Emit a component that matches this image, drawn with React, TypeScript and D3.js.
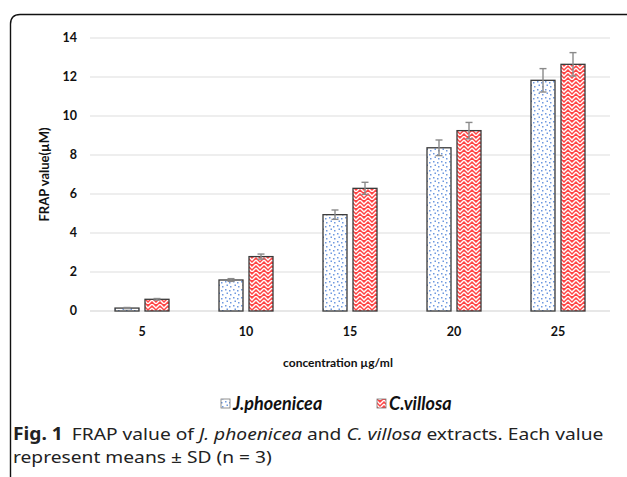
import React from "react";
import * as d3 from "d3";

const categories = ["5", "10", "15", "20", "25"];
const seriesNames = ["J.phoenicea", "C.villosa"];
const jphoeniceaValues = [0.15, 1.59, 4.94, 8.37, 11.83];
const jphoeniceaSD = [0.03, 0.07, 0.24, 0.4, 0.6];
const cvillosaValues = [0.6, 2.79, 6.29, 9.25, 12.65];
const cvillosaSD = [0.04, 0.13, 0.31, 0.42, 0.6];
const yTicks = [0, 2, 4, 6, 8, 10, 12, 14];

const W = 627;
const H = 477;
const left = 90;
const right = 610;
const top = 38;
const bottom = 311;

export default function App() {
  const x0 = d3.scaleBand<string>().domain(categories).range([left, right]).paddingInner(0).paddingOuter(0);
  const x1 = d3.scaleBand<string>().domain(seriesNames).range([-27, 27]).paddingInner(0.2);
  const y = d3.scaleLinear().domain([0, 14]).range([bottom, top]);

  const series = [
    { name: seriesNames[0], values: jphoeniceaValues, sd: jphoeniceaSD, fill: "url(#dots)" },
    { name: seriesNames[1], values: cvillosaValues, sd: cvillosaSD, fill: "url(#weave)" },
  ];

  const chartFont = "Lato, 'Open Sans', sans-serif";
  const capFont = "'Noto Sans', 'Open Sans', sans-serif";
  const legendX = [221, 377];

  return (
    <svg width={W} height={H} style={{ position: "absolute", left: 0, top: 0, background: "#fff" }}>
      <defs>
        <pattern id="dots" width="8" height="8" patternUnits="userSpaceOnUse">
          <rect width="8" height="8" fill="#fff" />
          <rect x="1" y="1" width="1.5" height="1.5" fill="#6f9ae0" />
          <rect x="5" y="2" width="1.5" height="1.5" fill="#6f9ae0" />
          <rect x="2.5" y="4.5" width="1.5" height="1.5" fill="#6f9ae0" />
          <rect x="6" y="6" width="1.5" height="1.5" fill="#6f9ae0" />
        </pattern>
        <pattern id="weave" width="8" height="8" patternUnits="userSpaceOnUse">
          <rect width="8" height="8" fill="#ff4545" />
          <path d="M0,0 L4,4 L8,0 M0,4 L4,8 L8,4" stroke="#fff" strokeWidth="1.4" fill="none" />
        </pattern>
      </defs>

      {/* frame */}
      <path d={`M10.5,${H} L10.5,24 Q10.5,14.5 20,14.5 L${W},14.5`} fill="none" stroke="#111" strokeWidth={1.4} />

      {/* gridlines */}
      {yTicks.map((t) => (
        <line key={t} x1={left} x2={right} y1={y(t)} y2={y(t)} stroke={t === 0 ? "#d0d0d0" : "#dedede"} strokeWidth={1.2} />
      ))}
      {yTicks.map((t) => (
        <text key={"l" + t} x={77} y={y(t)} dy="0.35em" textAnchor="end" fontFamily={chartFont} fontWeight="bold" fontSize={12.5} fill="#111">
          {t}
        </text>
      ))}

      <text
        transform={`translate(48.5,${(top + bottom) / 2}) rotate(-90)`}
        textAnchor="middle"
        fontFamily={chartFont}
        fontWeight="bold"
        fontSize={13}
        fill="#111"
      >
        FRAP value(µM)
      </text>

      {/* bars */}
      {series.map((s) =>
        categories.map((c, i) => {
          const cx = (x0(c) as number) + x0.bandwidth() / 2 + (x1(s.name) as number);
          const bw = x1.bandwidth();
          return (
            <rect key={s.name + c} x={cx} y={y(s.values[i])} width={bw} height={bottom - y(s.values[i])} fill={s.fill} stroke="#3a3a3a" strokeWidth={1.3} />
          );
        })
      )}
      {series.map((s) =>
        categories.map((c, i) => {
          const mx = (x0(c) as number) + x0.bandwidth() / 2 + (x1(s.name) as number) + x1.bandwidth() / 2;
          const hi = y(s.values[i] + s.sd[i]);
          const lo = y(s.values[i] - s.sd[i]);
          return (
            <g key={"e" + s.name + c} stroke="#8a8a8a" strokeWidth={1.4}>
              <line x1={mx} x2={mx} y1={hi} y2={lo} />
              <line x1={mx - 3.5} x2={mx + 3.5} y1={hi} y2={hi} />
              <line x1={mx - 3.5} x2={mx + 3.5} y1={lo} y2={lo} />
            </g>
          );
        })
      )}

      {/* x labels */}
      {categories.map((c) => (
        <text key={"x" + c} x={(x0(c) as number) + x0.bandwidth() / 2} y={332} dy="0.35em" textAnchor="middle" fontFamily={chartFont} fontWeight="bold" fontSize={12.5} fill="#111">
          {c}
        </text>
      ))}
      <text x={338} y={363} dy="0.35em" textAnchor="middle" fontFamily={chartFont} fontWeight="bold" fontSize={12} fill="#111">
        concentration µg/ml
      </text>

      {/* legend */}
      {series.map((s, i) => {
        const lx = legendX[i];
        return (
          <g key={"lg" + s.name}>
            <rect x={lx} y={399} width={9} height={9} fill={s.fill} stroke="#777" strokeWidth={0.8} />
            <text x={lx + 12} y={404} dy="0.35em" fontFamily={chartFont} fontWeight="bold" fontStyle="italic" fontSize={18} fill="#111">
              {s.name}
            </text>
          </g>
        );
      })}

      {/* caption */}
      <g transform="translate(13,0) scale(1.13,1)">
        <text x={0} y={440} fontFamily={capFont} fontSize={17} fill="#222">
          <tspan fontWeight="bold">Fig. 1</tspan>
          <tspan dx={8}>FRAP value of </tspan>
          <tspan fontStyle="italic">J. phoenicea</tspan>
          <tspan> and </tspan>
          <tspan fontStyle="italic">C. villosa</tspan>
          <tspan> extracts. Each value</tspan>
        </text>
        <text x={0} y={463} fontFamily={capFont} fontSize={17} fill="#222">
          represent means ± SD (n = 3)
        </text>
      </g>
    </svg>
  );
}
